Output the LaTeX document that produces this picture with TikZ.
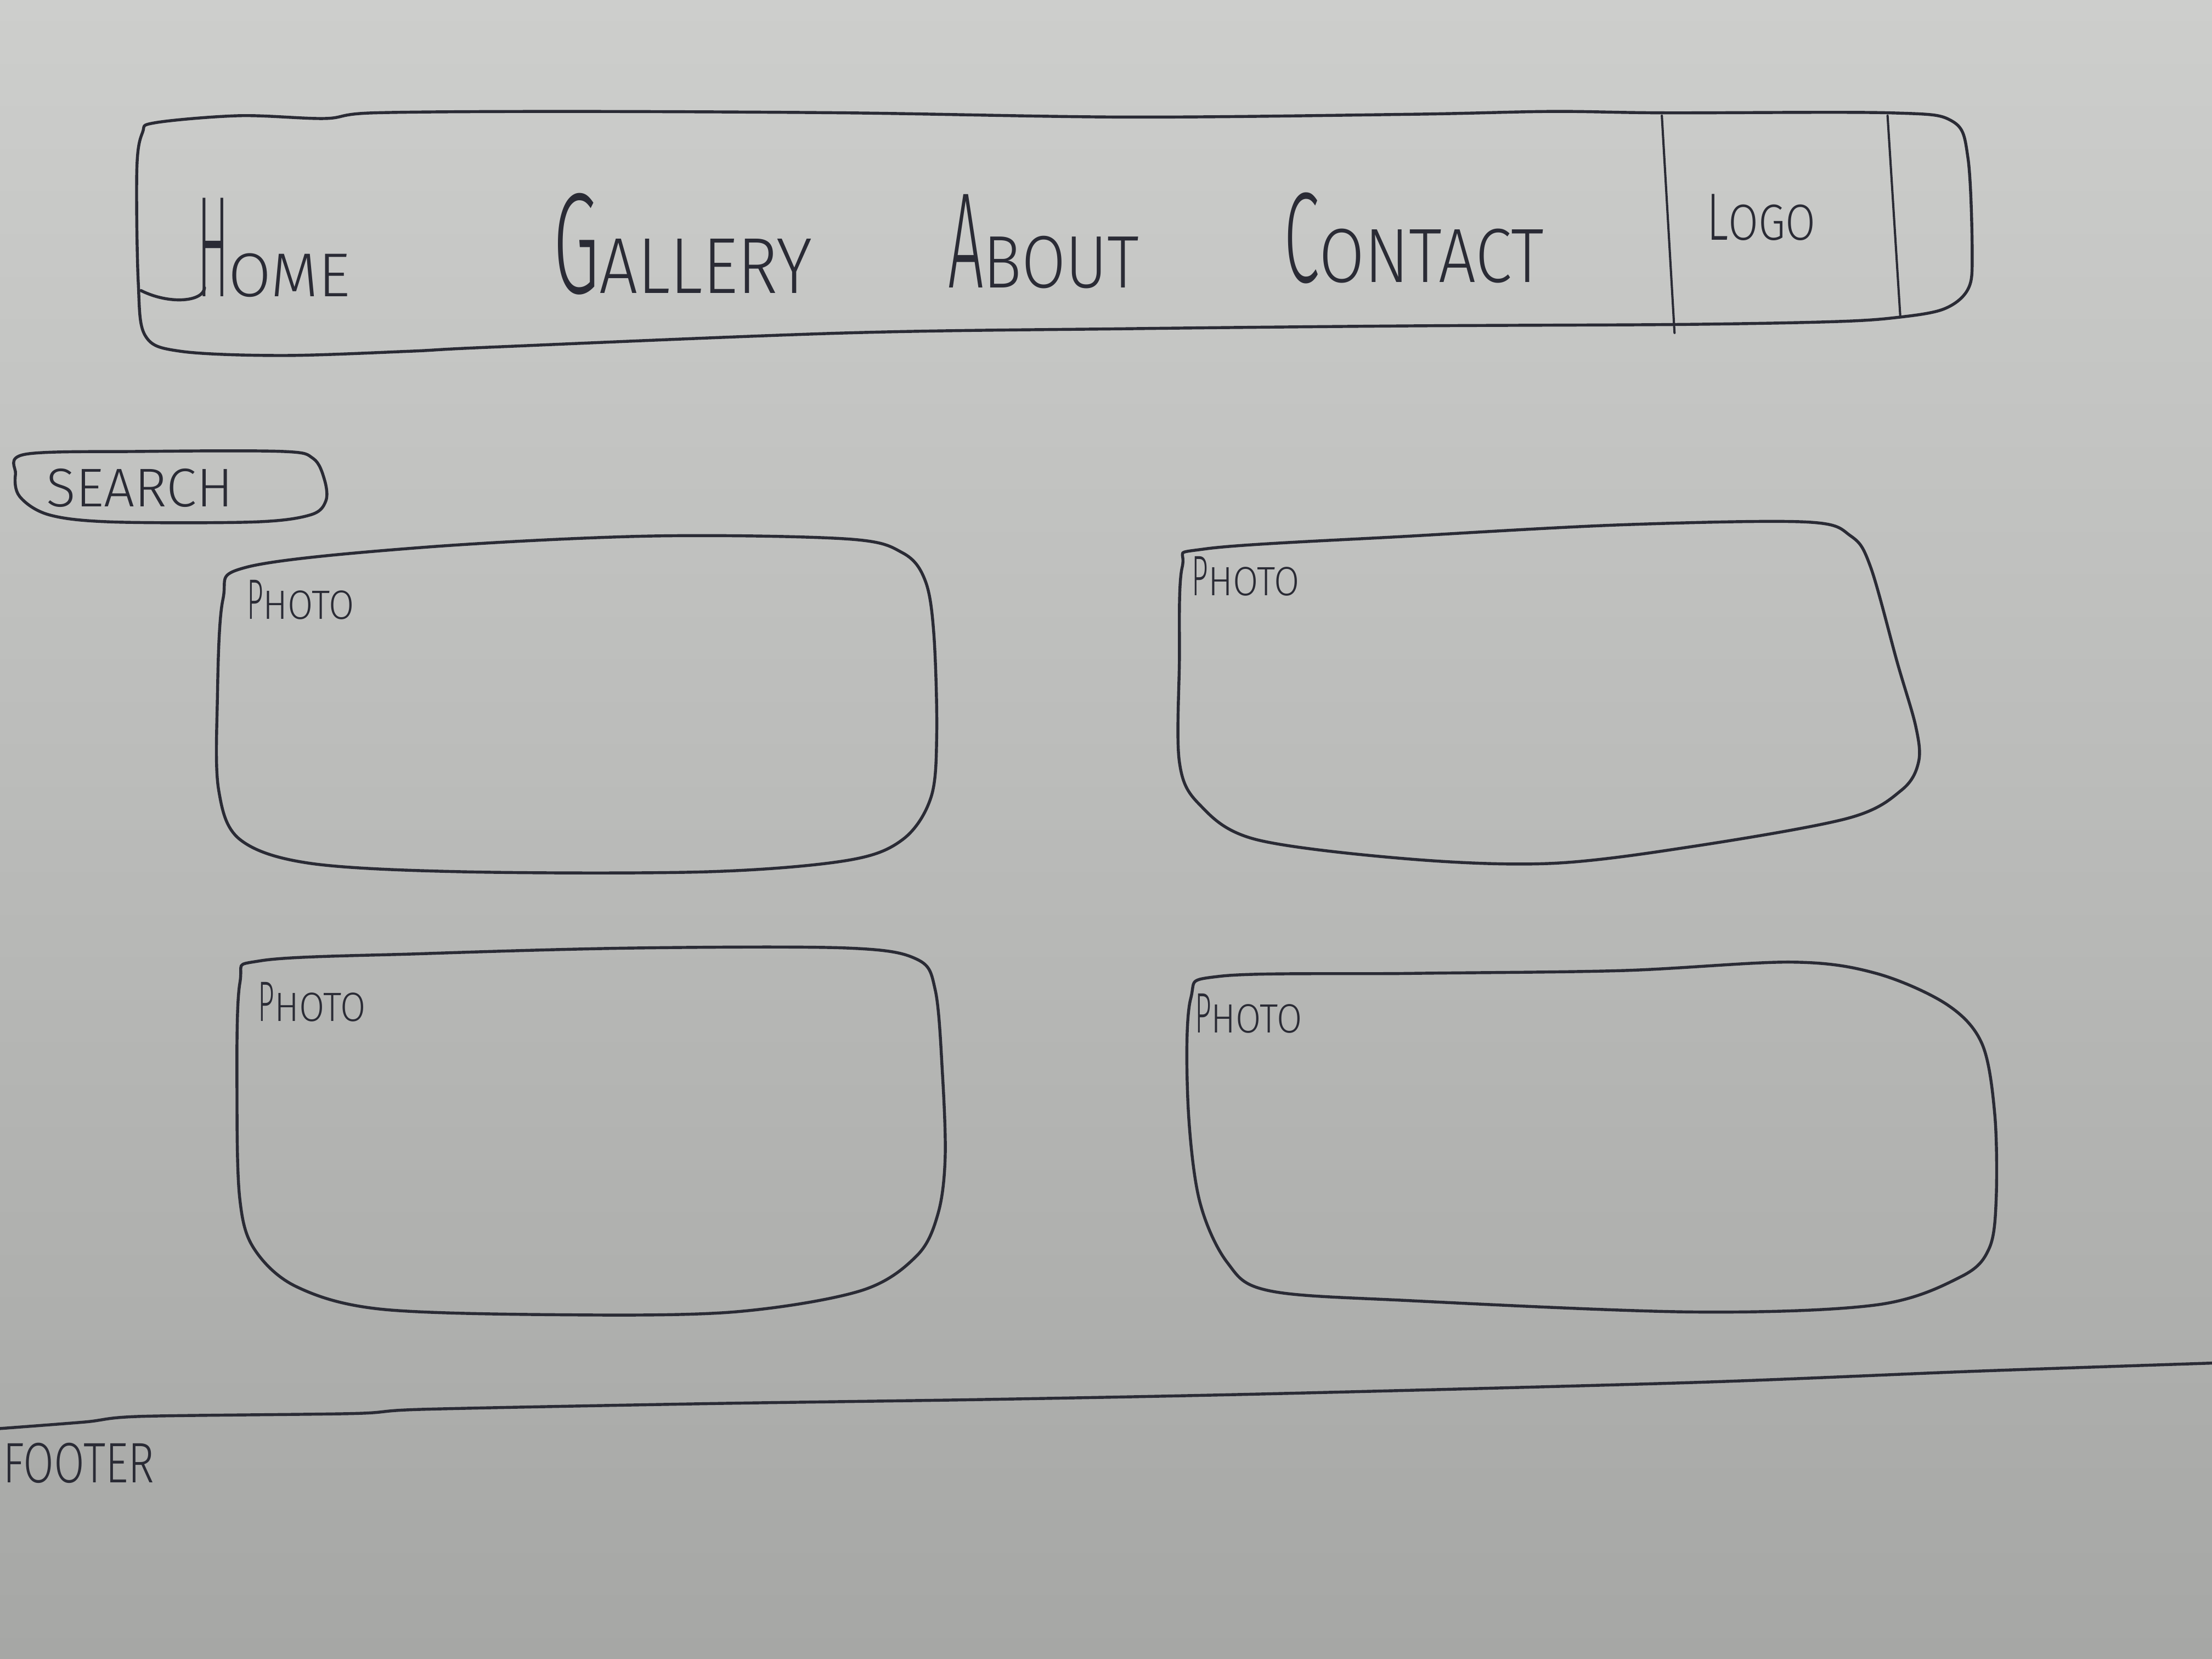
\documentclass[tikz,border=0pt]{standalone}
\usepackage{fontspec}
\usepackage{graphicx}
\setmainfont{Fira Sans Light}
\definecolor{ink}{HTML}{2A2B35}
\definecolor{papertop}{HTML}{CDCECC}
\definecolor{papermid}{HTML}{C2C3C1}
\definecolor{paperbot}{HTML}{A6A7A5}
% hand-lettered word: a tall narrow initial followed by smaller capitals
% #1 size of initial, #2 x-scale of initial, #3 initial, #4 size of rest, #5 x-scale of rest, #6 rest
\newcommand{\skword}[6]{\scalebox{#2}[1]{\fontsize{#1}{#1}\selectfont #3}\scalebox{#5}[1]{\fontsize{#4}{#4}\selectfont #6}}
\tikzset{
  pen/.style={draw=ink, line width=1.2pt, line cap=round, line join=round},
  thinpen/.style={draw=ink, line width=0.9pt, line cap=round},
  label/.style={text=ink, inner sep=0pt, outer sep=0pt, anchor=base west},
}
\begin{document}
\begin{tikzpicture}[x=0.02cm, y=-0.02cm]
  % paper
  \useasboundingbox (0,0) rectangle (1568,1176);
  \shade[top color=papertop, middle color=papermid, bottom color=paperbot] (0,0) rectangle (1568,1176);
  \clip (0,0) rectangle (1568,1176);

  % navigation bar
  \draw[pen] plot[smooth cycle, tension=0.55] coordinates {
    (110,87) (170,82) (230,84) (265,80) (400,79) (600,80) (800,83) (1000,81)
    (1100,79) (1180,80) (1340,80) (1384,86) (1395,112) (1398,180) (1395,205)
    (1378,219) (1345,225) (1300,228) (1190,230) (1000,231) (800,233) (600,236)
    (350,246) (290,249) (200,252) (128,249) (103,238) (98,200) (97,120) (101,94)};
  \draw[thinpen] (1178,82) -- (1187,236);
  \draw[thinpen] (1338,82) -- (1347,224);

  % menu entries
  \node[label] (home) at (140,210) {\skword{58pt}{0.32}{H}{25pt}{1.0}{OME}};
  \draw[pen] (145,204) .. controls (144,214) and (120,216) .. (100,206);
  \node[label] (gallery) at (392,208) {\skword{58pt}{0.52}{G}{32pt}{0.86}{ALLERY}};
  \node[label] (about) at (672,204) {\skword{55pt}{0.46}{A}{30pt}{0.86}{BOUT}};
  \node[label] (contact) at (910,200) {\skword{52pt}{0.5}{C}{31pt}{0.86}{ONTACT}};
  \node[label] (logo) at (1210,170) {\skword{27pt}{0.67}{L}{20.5pt}{0.86}{OGO}};

  % search field
  \draw[pen] plot[smooth cycle, tension=0.55] coordinates {
    (18,322) (100,320) (200,320) (222,325) (230,340) (231,355) (220,365)
    (180,370) (80,370) (35,365) (14,352) (11,336)};
  \node[label] (search) at (33,359) {\fontsize{22pt}{22pt}\selectfont SEARCH};

  % photo tiles
  \draw[pen] plot[smooth cycle, tension=0.55] coordinates {
    (175,402) (300,388) (460,380) (600,382) (640,392) (656,412) (662,450)
    (664,520) (660,565) (640,595) (600,610) (500,618) (330,618) (220,612)
    (170,595) (155,560) (154,500) (158,425)};
  \node[label] (photoA) at (175,439) {\skword{23pt}{0.5}{P}{16.5pt}{0.9}{HOTO}};

  \draw[pen] plot[smooth cycle, tension=0.55] coordinates {
    (855,389) (1000,380) (1150,372) (1280,370) (1312,380) (1326,402) (1345,470)
    (1358,515) (1360,540) (1348,560) (1310,580) (1200,600) (1100,612) (1000,609)
    (890,595) (850,570) (836,540) (836,470) (838,402)};
  \node[label] (photoB) at (845,422) {\skword{23pt}{0.5}{P}{16.5pt}{0.9}{HOTO}};

  \draw[pen] plot[smooth cycle, tension=0.55] coordinates {
    (185,681) (300,676) (450,672) (600,672) (650,680) (663,702) (668,760)
    (670,820) (665,860) (650,890) (610,915) (520,930) (400,932) (270,928)
    (210,912) (180,885) (170,850) (168,780) (170,697)};
  \node[label] (photoC) at (183,724) {\skword{23pt}{0.5}{P}{16.5pt}{0.9}{HOTO}};

  \draw[pen] plot[smooth cycle, tension=0.55] coordinates {
    (865,692) (1000,690) (1150,688) (1270,682) (1330,690) (1380,712) (1405,740)
    (1414,790) (1415,850) (1410,885) (1390,905) (1330,925) (1200,930) (1000,922)
    (900,915) (870,895) (850,850) (842,780) (844,708)};
  \node[label] (photoD) at (847,732) {\skword{23pt}{0.5}{P}{16.5pt}{0.9}{HOTO}};

  % footer divider
  \draw[pen] plot[smooth, tension=0.5] coordinates {
    (-5,1013) (60,1008) (100,1004) (250,1002) (300,999) (500,995) (700,992)
    (900,988) (1200,980) (1400,972) (1575,966)};
  \node[label] (footer) at (2,1051) {\scalebox{0.78}[1]{\fontsize{23pt}{23pt}\selectfont FOOTER}};
\end{tikzpicture}
\end{document}
